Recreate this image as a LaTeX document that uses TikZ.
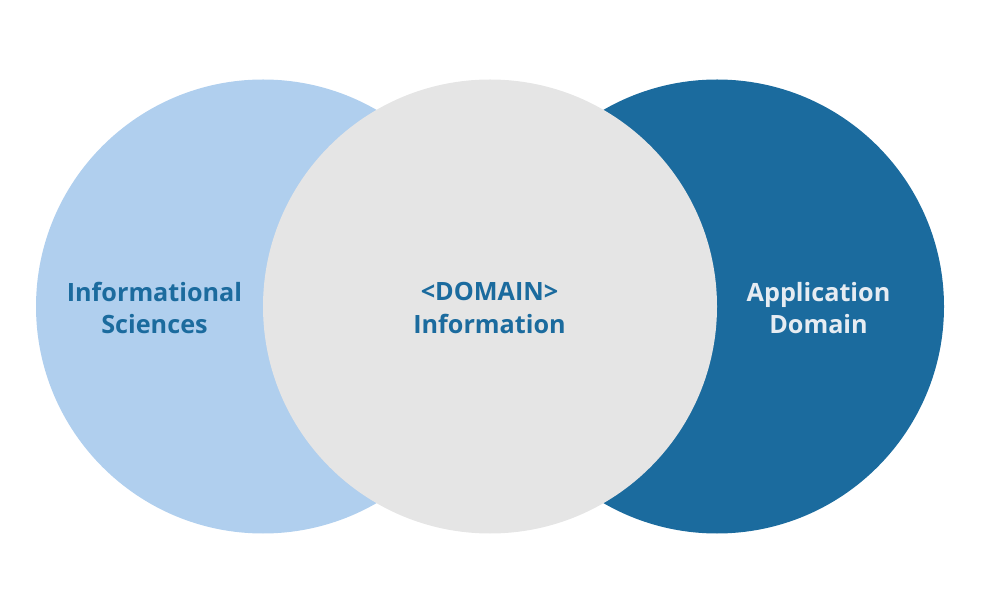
\documentclass[tikz,border=0pt]{standalone}
\usepackage{fontspec}
\setmainfont{Open Sans}
\definecolor{lightblue}{HTML}{B0CFEE}
\definecolor{greyc}{HTML}{E5E5E5}
\definecolor{darkblue}{HTML}{1B6B9E}
\definecolor{paletext}{HTML}{E6ECF2}
\begin{document}
\begin{tikzpicture}[x=1pt,y=1pt,
  lbl/.style={font=\fontsize{25.2}{32.5}\selectfont\bfseries, align=center}]
\useasboundingbox (0,0) rectangle (981,613);
\fill[lightblue] (263,306.5) circle (227) coordinate (cl);
\fill[darkblue] (717,306.5) circle (227) coordinate (cr);
\fill[greyc] (490,306.5) circle (227) coordinate (cm);
\node[lbl, text=darkblue] (l) at (154.5,305) {Informational\\Sciences};
\node[lbl, text=darkblue] (m) at (489.5,305) {<DOMAIN>\\Information};
\node[lbl, text=paletext] (r) at (818.5,305) {Application\\Domain};
\end{tikzpicture}
\end{document}
